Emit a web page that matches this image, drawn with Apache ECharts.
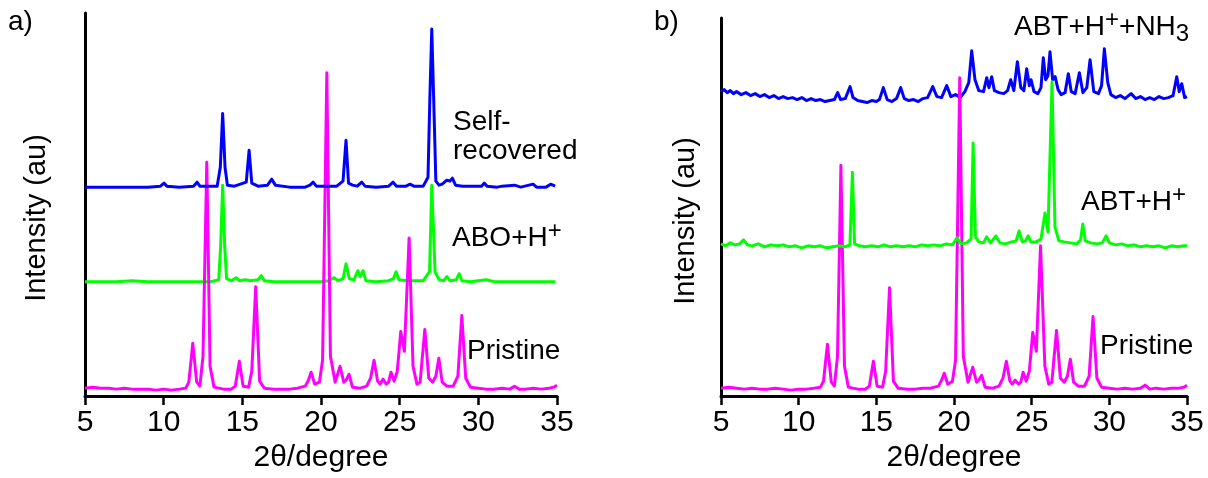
<!DOCTYPE html>
<html>
<head>
<meta charset="utf-8">
<script src="https://cdn.jsdelivr.net/npm/echarts@6/dist/echarts.min.js"></script>
<style>
html,body{margin:0;padding:0;background:#fff;}
#c{width:1208px;height:478px;}
</style>
</head>
<body>
<div id="c"></div>
<script>
// x tick values (2θ, degree)
const xTicks = [5, 10, 15, 20, 25, 30, 35];

// Panel a) traces: [2θ, intensity (au, offset stacked)]
const pristineA = [[5.0,8],[5.5,9],[6.0,8],[6.5,8],[7.0,7],[7.5,8],[8.0,7],[8.5,7],[9.0,7],[9.5,6],[10.0,7],[10.5,6],[11.0,7],[11.4,8],[11.6,14],[11.85,53],[12.1,14],[12.3,10],[12.5,40],[12.74,235],[12.95,30],[13.2,9],[13.8,7],[14.3,7],[14.55,10],[14.81,35],[15.05,10],[15.4,9],[15.6,25],[15.85,110],[16.1,15],[16.4,8],[17.0,7],[17.5,7],[18.0,7],[18.5,8],[19.0,10],[19.2,16],[19.37,24],[19.6,12],[19.9,14],[20.1,36],[20.37,325],[20.6,40],[20.9,14],[21.21,30],[21.45,14],[21.6,16],[21.78,22],[22.0,9],[22.5,8],[22.9,10],[23.15,18],[23.37,36],[23.6,15],[23.75,12],[23.94,17],[24.15,12],[24.3,14],[24.45,24],[24.65,15],[24.85,25],[25.07,65],[25.3,45],[25.6,159],[25.85,30],[26.1,12],[26.3,14],[26.6,67],[26.85,18],[27.1,14],[27.3,20],[27.49,38],[27.7,14],[28.0,10],[28.4,10],[28.7,20],[28.95,81],[29.2,18],[29.5,9],[30.0,8],[30.5,7],[31.0,7],[31.5,8],[32.0,7],[32.3,10],[32.6,7],[33.0,7],[33.5,8],[34.0,7],[34.5,8],[34.8,9],[35.0,11]];
const aboH = [[5.0,115],[6,115],[7,115],[8,116],[9,115],[10,115],[11,115],[12,115],[13,115],[13.5,117],[13.62,150],[13.75,212],[13.88,150],[14.0,118],[14.3,116],[14.6,119],[14.8,116],[15.2,117],[15.5,116],[16.0,117],[16.2,121],[16.4,116],[17,115],[18,115],[19,115],[20,115],[20.5,116],[20.83,119],[21.1,116],[21.4,118],[21.59,133],[21.8,118],[22.1,117],[22.34,126],[22.5,120],[22.67,126],[22.85,116],[23.5,115],[24.3,116],[24.6,118],[24.77,125],[24.95,117],[25.5,116],[26.5,116],[26.9,125],[27.04,212],[27.25,125],[27.5,117],[27.8,116],[28.0,120],[28.2,116],[28.6,117],[28.78,123],[28.95,116],[29.5,115],[30.0,116],[30.5,117],[31,115],[32,115],[33,115],[34,115],[34.9,115]];
const selfRecovered = [[5.0,210],[6,210],[7,210],[8,210],[9,210],[9.8,211],[10.02,214],[10.2,211],[11,210],[11.9,211],[12.12,215],[12.3,211],[13.4,211],[13.6,230],[13.75,284],[13.9,230],[14.05,212],[14.5,211],[15.25,215],[15.43,247],[15.6,214],[16.0,211],[16.6,212],[16.87,218],[17.1,212],[18,210],[19,210],[19.3,212],[19.5,215],[19.7,211],[20.5,211],[21.0,211],[21.4,216],[21.59,257],[21.75,214],[22.0,212],[22.3,211],[22.59,215],[22.8,211],[23.5,210],[24.3,211],[24.58,215],[24.8,211],[25.4,211],[25.66,213],[25.9,211],[26.5,211],[26.8,220],[26.92,300],[27.04,369],[27.16,300],[27.3,216],[27.5,212],[27.7,213],[28.0,217],[28.2,216],[28.35,219],[28.55,212],[29,211],[29.5,211],[30.2,211],[30.37,214],[30.55,211],[31.2,210],[31.5,211],[32.3,212],[32.7,210],[33.48,213],[33.7,210],[34.3,210],[34.6,213],[34.88,211]];

// Panel b) traces
const pristineB = [[5.0,8],[5.5,9],[6.0,8],[6.5,7],[7,8],[7.5,7],[8,7],[8.5,8],[9,7],[9.5,6],[10,7],[10.5,7],[11,8],[11.4,9],[11.6,15],[11.85,52],[12.1,14],[12.3,10],[12.5,40],[12.72,232],[12.95,30],[13.2,9],[13.8,7],[14.3,7],[14.55,10],[14.81,35],[15.05,10],[15.4,9],[15.6,25],[15.85,109],[16.1,15],[16.4,8],[17,7],[17.5,7],[18,8],[18.5,8],[19.0,10],[19.2,16],[19.37,23],[19.6,12],[19.9,15],[20.1,36],[20.37,320],[20.6,40],[20.9,14],[21.21,29],[21.45,14],[21.6,16],[21.78,21],[22.0,9],[22.5,8],[22.9,10],[23.15,18],[23.37,35],[23.6,15],[23.75,12],[23.94,16],[24.15,12],[24.3,14],[24.45,24],[24.65,15],[24.85,25],[25.07,64],[25.3,45],[25.57,151],[25.85,30],[26.1,12],[26.3,14],[26.6,66],[26.85,18],[27.1,14],[27.3,20],[27.49,37],[27.7,14],[28.0,10],[28.4,10],[28.7,20],[28.95,80],[29.2,18],[29.5,9],[30,8],[30.5,7],[31,8],[31.5,7],[32,8],[32.3,11],[32.6,7],[33,8],[33.5,7],[34,8],[34.5,8],[34.8,9],[35.0,11]];
const abtH = [[5.0,153],[5.3,151],[5.6,154],[5.9,152],[6.2,153],[6.45,157],[6.7,152],[7.0,151],[7.4,153],[7.8,150],[8.2,152],[8.6,151],[9.0,152],[9.4,150],[9.8,151],[10.2,149],[10.6,151],[11.0,150],[11.4,151],[11.8,149],[12.2,150],[12.6,151],[13.0,150],[13.3,152],[13.46,225],[13.6,153],[13.9,151],[14.3,150],[14.7,151],[15.1,150],[15.5,152],[15.9,150],[16.3,151],[16.7,150],[17.1,151],[17.5,150],[17.9,152],[18.3,151],[18.7,152],[19.1,151],[19.5,153],[19.9,152],[20.2,159],[20.45,153],[20.8,154],[21.1,158],[21.23,254],[21.38,160],[21.6,155],[21.9,154],[22.1,160],[22.35,154],[22.7,161],[22.95,154],[23.3,153],[23.7,155],[24.0,156],[24.19,166],[24.4,155],[24.6,156],[24.77,161],[24.95,155],[25.3,155],[25.6,158],[25.86,184],[26.05,165],[26.31,316],[26.5,170],[26.75,156],[27.1,155],[27.5,154],[27.9,153],[28.15,157],[28.29,173],[28.45,156],[28.8,154],[29.2,153],[29.55,154],[29.79,161],[30.0,154],[30.4,152],[30.8,153],[31.2,151],[31.6,152],[32.0,150],[32.4,151],[32.8,150],[33.2,151],[33.6,149],[34.0,151],[34.4,150],[34.8,151],[35.0,151]];
const abtHNH3 = [[5.0,306],[5.2,308],[5.4,305],[5.6,307],[5.8,304],[6.0,306],[6.3,303],[6.6,305],[6.9,302],[7.2,304],[7.5,301],[7.8,303],[8.1,300],[8.4,302],[8.7,299],[9.0,301],[9.3,299],[9.6,300],[9.9,298],[10.2,300],[10.5,297],[10.8,299],[11.1,297],[11.4,298],[11.7,296],[12.0,297],[12.3,298],[12.51,305],[12.7,298],[13.0,299],[13.31,311],[13.5,300],[13.8,297],[14.1,296],[14.4,295],[14.7,297],[15.0,296],[15.2,298],[15.45,310],[15.7,298],[16.0,296],[16.3,299],[16.57,310],[16.8,299],[17.1,297],[17.4,298],[17.7,296],[18.0,299],[18.3,300],[18.63,311],[18.9,301],[19.2,300],[19.53,312],[19.8,301],[20.1,303],[20.4,300],[20.7,306],[20.95,315],[21.14,347],[21.35,318],[21.6,307],[21.9,306],[22.11,320],[22.25,310],[22.43,321],[22.6,307],[22.9,305],[23.2,304],[23.45,307],[23.65,318],[23.85,307],[24.08,336],[24.3,310],[24.5,307],[24.68,329],[24.85,312],[24.96,318],[25.15,306],[25.4,304],[25.6,310],[25.75,340],[25.9,318],[26.05,322],[26.18,346],[26.35,318],[26.51,321],[26.7,308],[26.9,303],[27.15,305],[27.36,324],[27.55,306],[27.8,304],[28.07,325],[28.3,305],[28.55,310],[28.76,338],[29.0,306],[29.3,304],[29.5,312],[29.68,349],[29.9,315],[30.1,303],[30.4,300],[30.7,302],[31.0,299],[31.4,304],[31.7,299],[32.0,301],[32.3,298],[32.6,300],[32.9,298],[33.2,301],[33.5,299],[33.8,300],[34.1,302],[34.34,321],[34.5,306],[34.66,314],[34.85,300],[35.0,301]];

const FONT = '"Liberation Sans", Arial, sans-serif';
const MAGENTA = '#ff00ff', GREEN = '#00ff00', BLUE = '#0000ff';

const chart = echarts.init(document.getElementById('c'), null, {renderer: 'canvas'});

function xAx(gi) {
  return {
    type: 'value', gridIndex: gi, min: xTicks[0], max: xTicks[xTicks.length - 1], interval: 5,
    name: '2θ/degree', nameLocation: 'middle', nameGap: 46,
    nameTextStyle: {fontFamily: FONT, fontSize: 30, color: '#000'},
    axisLine: {show: true, onZero: false, lineStyle: {color: '#000', width: 3}},
    axisTick: {show: true, inside: false, length: 9, lineStyle: {color: '#000', width: 2.5}},
    axisLabel: {fontFamily: FONT, fontSize: 30, color: '#000', margin: 12},
    splitLine: {show: false}
  };
}
function yAx(gi, max) {
  return {
    type: 'value', gridIndex: gi, min: 0, max: max,
    axisLine: {show: true, lineStyle: {color: '#000', width: 3}},
    axisTick: {show: false}, axisLabel: {show: false}, splitLine: {show: false}
  };
}
function line(data, color, xi) {
  return {
    type: 'line', data: data, xAxisIndex: xi, yAxisIndex: xi,
    showSymbol: false, symbol: 'none', smooth: false, animation: false,
    lineStyle: {color: color, width: 3, join: 'round'}, clip: true
  };
}
function label(x, y, text) {
  return {
    type: 'text', x: x, y: y,
    style: {text: text, fill: '#000', font: '28px ' + FONT, verticalAlign: 'top'}
  };
}
const rich = {
  n: {fontFamily: FONT, fontSize: 28, color: '#000', lineHeight: 38, verticalAlign: 'middle'},
  sup: {fontFamily: FONT, fontSize: 24, color: '#000', verticalAlign: 'top'},
  sub: {fontFamily: FONT, fontSize: 24, color: '#000', verticalAlign: 'bottom'}
};
function richLabel(x, y, text) {
  return {type: 'text', x: x, y: y, style: {text: text, rich: rich, verticalAlign: 'top', fill: '#000', font: '28px ' + FONT}};
}

chart.setOption({
  animation: false,
  backgroundColor: '#fff',
  grid: [
    {left: 85, top: 13, width: 472, height: 385},
    {left: 721, top: 18, width: 466, height: 380}
  ],
  xAxis: [xAx(0), xAx(1)],
  yAxis: [yAx(0, 385), yAx(1, 380)],
  series: [
    line(aboH, GREEN, 0),
    line(pristineA, MAGENTA, 0),
    line(selfRecovered, BLUE, 0),
    line(abtHNH3, BLUE, 1),
    line(pristineB, MAGENTA, 1),
    line(abtH, GREEN, 1)
  ],
  graphic: [
    label(8, 8, 'a)'),
    label(654, 8, 'b)'),
    {type: 'text', x: 37, y: 218, rotation: Math.PI / 2,
     style: {text: 'Intensity (au)', fill: '#000', font: '29px ' + FONT, align: 'center', verticalAlign: 'middle'}},
    {type: 'text', x: 686, y: 221, rotation: Math.PI / 2,
     style: {text: 'Intensity (au)', fill: '#000', font: '29px ' + FONT, align: 'center', verticalAlign: 'middle'}},
    label(453, 108, 'Self-'),
    label(453, 137, 'recovered'),
    richLabel(452, 219, '{n|ABO+H}{sup|+}'),
    label(467, 337, 'Pristine'),
    richLabel(1014, 8, '{n|ABT+H}{sup|+}{n|+NH}{sub|3}'),
    richLabel(1081, 183, '{n|ABT+H}{sup|+}'),
    label(1100, 332, 'Pristine')
  ]
});
</script>
</body>
</html>
